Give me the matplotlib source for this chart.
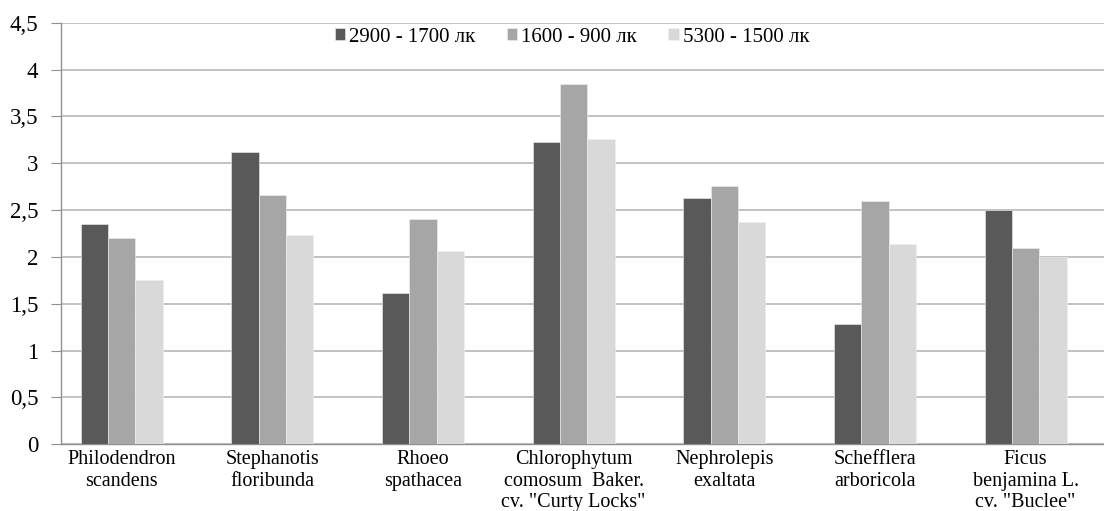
import matplotlib.pyplot as plt
import matplotlib.ticker as mticker
import numpy as np

plt.rcParams['font.family'] = ['Liberation Serif', 'DejaVu Serif']

categories = ['Philodendron\nscandens', 'Stephanotis\nfloribunda', 'Rhoeo\nspathacea',
              'Chlorophytum\ncomosum  Baker.\ncv. "Curty Locks"', 'Nephrolepis\nexaltata',
              'Schefflera\narboricola', 'Ficus\nbenjamina L.\ncv. "Buclee"']
series_names = ['2900 - 1700 лк', '1600 - 900 лк', '5300 - 1500 лк']
vals_2900 = [2.35, 3.12, 1.62, 3.23, 2.63, 1.28, 2.50]
vals_1600 = [2.20, 2.66, 2.40, 3.85, 2.76, 2.60, 2.10]
vals_5300 = [1.75, 2.23, 2.06, 3.26, 2.37, 2.14, 2.00]
colors = ['#595959', '#a6a6a6', '#d9d9d9']


def main():
    fig = plt.figure(figsize=(11.04, 5.11), dpi=100)
    W, H = 1104, 511
    ax = fig.add_axes([60.5 / W, (H - 444.3) / H, 1 - 60.5 / W, (444.3 - 22.7) / H])

    x = np.arange(len(categories))
    w = 0.182
    for i, (vals, name) in enumerate(zip([vals_2900, vals_1600, vals_5300], series_names)):
        ax.bar(x + (i - 1) * w, vals, width=w, color=colors[i], label=name,
               edgecolor='#f0f0f0', linewidth=0.4, zorder=3)

    ax.set_xlim(-0.406, 6.52)
    ax.set_ylim(0, 4.5)
    ax.yaxis.set_major_locator(mticker.MultipleLocator(0.5))
    ax.yaxis.set_major_formatter(mticker.FuncFormatter(
        lambda v, p: ('%g' % v).replace('.', ',')))
    ax.grid(axis='y', color='#bdbdbd', linewidth=1.3, zorder=0)
    ax.set_xticks(x)
    ax.set_xticklabels(categories, fontsize=14.5, linespacing=1.2)
    ax.tick_params(axis='x', length=0, pad=4)
    ax.tick_params(axis='y', length=7, color='#909090', labelsize=16.5, pad=9)
    for s in ['top', 'right']:
        ax.spines[s].set_visible(False)
    for s in ['left', 'bottom']:
        ax.spines[s].set_color('#909090')
        ax.spines[s].set_linewidth(1.0)

    fig.legend(loc='center', bbox_to_anchor=(572 / W, 1 - 37 / H), ncol=3,
               frameon=False, fontsize=15, handlelength=0.5, handleheight=0.5,
               handletextpad=0.2, columnspacing=1.5)
    fig.savefig('out.png', dpi=100)


if __name__ == "__main__":
    main()
